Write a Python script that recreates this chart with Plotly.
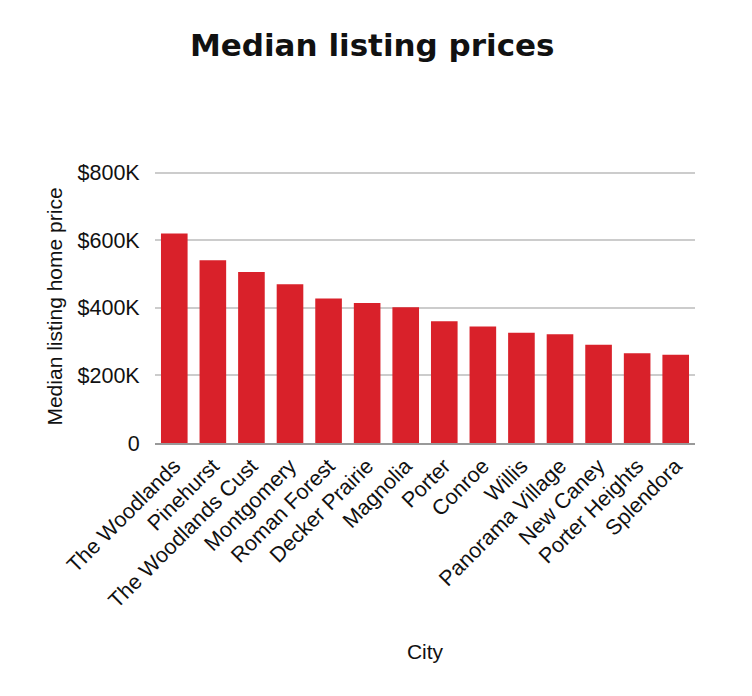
import plotly.graph_objects as go

cities = ["The Woodlands", "Pinehurst", "The Woodlands Cust", "Montgomery", "Roman Forest",
          "Decker Prairie", "Magnolia", "Porter", "Conroe", "Willis", "Panorama Village",
          "New Caney", "Porter Heights", "Splendora"]
prices = [620000, 541000, 506000, 470000, 428000, 414000, 402000, 360000, 345000,
          326000, 322000, 291000, 266000, 261000]
tick_vals = [0, 200000, 400000, 600000, 800000]
tick_text = ["0", "$200K", "$400K", "$600K", "$800K"]

fig = go.Figure(go.Bar(x=cities, y=prices, marker=dict(color="#D9212A", line=dict(width=0))))

fig.update_layout(
    width=752, height=696, autosize=False,
    paper_bgcolor="white", plot_bgcolor="white",
    margin=dict(l=155, r=57, t=170, b=253),
    bargap=0.31,
    showlegend=False,
    title=dict(text="Median listing prices", x=0.495, xanchor="center", y=0.935, yanchor="middle",
               font=dict(family="DejaVu Sans", size=31, color="#111111", weight="bold")),
    font=dict(family="Liberation Sans, Arial, sans-serif", color="#111111"),
)
fig.update_xaxes(
    tickangle=-45, tickfont=dict(size=21.5, color="#111111"),
    showline=True, linecolor="#999999", linewidth=2, ticks="",
    title=dict(text="City", font=dict(size=21), standoff=32),
    showgrid=False,
)
fig.update_yaxes(
    range=[0, 808000], tickvals=tick_vals, ticktext=tick_text,
    tickfont=dict(size=21.5, color="#111111"),
    showgrid=True, gridcolor="#CCCCCC", gridwidth=2, zeroline=False,
    ticks="outside", ticklen=10, tickcolor="white",
    title=dict(text="Median listing home price", font=dict(size=21), standoff=9),
)
fig.write_html("out.html")
